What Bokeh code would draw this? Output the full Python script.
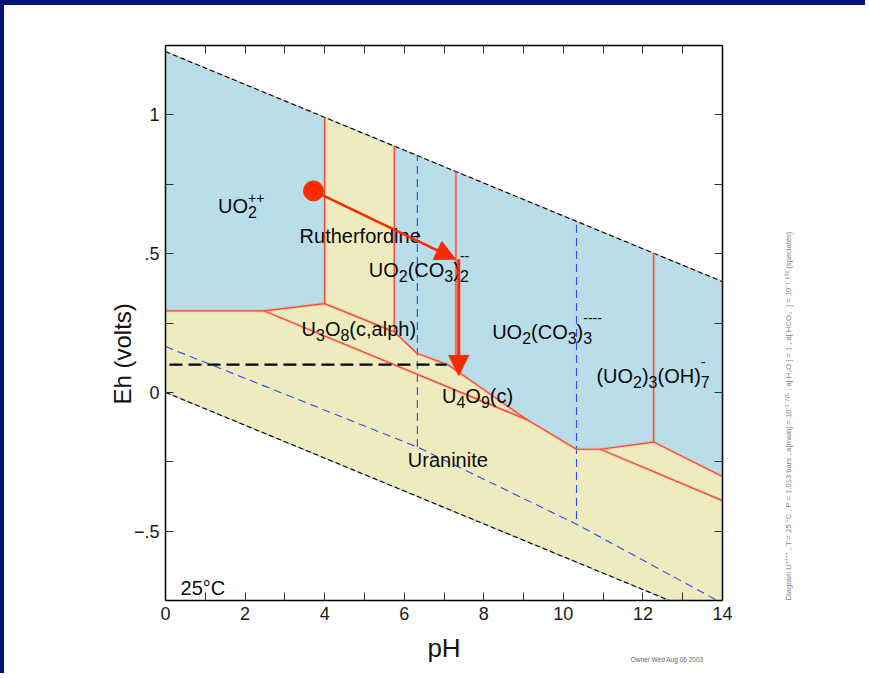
import math
from bokeh.plotting import figure
from bokeh.models import (Range1d, FixedTicker, LinearAxis, Arrow, Title,
                          NormalHead, ColumnDataSource)
from bokeh.core.properties import value
from bokeh.embed import file_html
from bokeh.resources import INLINE

# ---------------------------------------------------------------- data
# water stability limits (O2/H2O above, H2O/H2 below)
water_ph = [0, 14]
water_o2_eh = [1.228, 0.399]
water_h2_eh = [0.0, -0.829]

# upper edge of the solid fields, left to right
solid_top_ph = [0, 2.47, 4.0, 5.75, 6.32, 7.12, 9.09, 10.33, 10.93, 12.27, 14.0]
solid_top_eh = [0.294, 0.294, 0.32, 0.218, 0.141, 0.098, -0.099, -0.205, -0.205, -0.179, -0.303]

# U3O8 / U4O9 lower boundary against uraninite
u3o8_low_ph = [2.47, 9.09]
u3o8_low_eh = [0.294, -0.099]

# lower boundary of the high-pH solid band
band_low_ph = [10.93, 14.0]
band_low_eh = [-0.205, -0.39]

# vertical field boundaries (pH, Eh bottom, Eh top at the water limit)
vert_ph = [4.0, 5.75, 7.30, 12.27]
vert_eh_low = [0.32, 0.218, 0.078, -0.179]
vert_eh_top = [0.991, 0.888, 0.796, 0.502]

# aqueous U(IV)/U(VI) predominance lines
aq_diag_ph = [0, 6.33, 10.33, 14.0]
aq_diag_eh = [0.165, -0.197, -0.475, -0.76]
aq_vert_ph = [6.33, 10.33]
aq_vert_eh_low = [-0.197, -0.456]
aq_vert_eh_top = [0.853, 0.617]

# reaction path
start_ph, start_eh = 3.72, 0.726
path_ph = [3.72, 7.29]
path_eh = [0.726, 0.48]
drop_ph = [7.37, 7.37]
drop_eh = [0.48, 0.061]

# reference Eh level
ref_ph = [0.1, 7.07]
ref_eh = [0.1, 0.1]

# axes
x_ticks = [0, 2, 4, 6, 8, 10, 12, 14]
x_tick_labels = ["0", "2", "4", "6", "8", "10", "12", "14"]
x_minor = [1, 3, 5, 7, 9, 11, 13]
y_ticks = [-0.5, 0, 0.5, 1]
y_tick_labels = ["\u2212.5", "0", ".5", "1"]
y_minor = [-0.25, 0.25, 0.75]

run_note = ("Diagram U\u207a\u207a\u207a\u207a ,  T = 25 \u00b0C ,  P = 1.013 bars ,  "
            "a[main] = 10\u207b\u00b9\u02d9\u2077\u2077\u2075 ,  a[ H\u2082O ] = 1 ,  "
            "a[ HCO\u2083\u207b ] = 10\u207b\u00b9\u02d9\u2076\u2070\u00b2      (speciates)")
run_note_eh = -0.7499          # the note starts at the foot of the frame
owner_note = "Owner Wed Aug 06 2003"

# ---------------------------------------------------------------- style
BLUE = "#BADEE9"
YELLOW = "#EEECBE"
RED_LINE = "#F4452F"
RED = "#FF2A00"
DASH_BLUE = "#2B48FF"
NAVY = "#001478"
FONT = "Liberation Sans"

p = figure(width=865, height=673,
           x_range=Range1d(0, 14), y_range=Range1d(-0.75, 1.25),
           output_backend="svg", toolbar_location=None,
           x_axis_location=None, y_axis_location=None,
           min_border_left=161, min_border_right=147,
           min_border_top=40, min_border_bottom=78,
           background_fill_color="white", border_fill_color="white",
           outline_line_color=None)
p.styles = {"border-top": f"5px solid {NAVY}", "border-left": f"4px solid {NAVY}"}
for g in p.grid:
    g.visible = False

# ---------------------------------------------------------------- fields
i4 = solid_top_ph.index(vert_ph[0])
i5 = solid_top_ph.index(vert_ph[1])

uo2_x = [water_ph[0], vert_ph[0]] + solid_top_ph[:i4 + 1][::-1]
uo2_y = [water_o2_eh[0], vert_eh_top[0]] + solid_top_eh[:i4 + 1][::-1]

ruth_x = [vert_ph[0], vert_ph[1], vert_ph[1], vert_ph[0]]
ruth_y = [vert_eh_top[0], vert_eh_top[1], solid_top_eh[i5], solid_top_eh[i4]]

carb_x = [vert_ph[1], water_ph[1]] + solid_top_ph[i5:][::-1]
carb_y = [vert_eh_top[1], water_o2_eh[1]] + solid_top_eh[i5:][::-1]

solid_x = solid_top_ph + [water_ph[1], water_ph[0]]
solid_y = solid_top_eh + [water_h2_eh[1], water_h2_eh[0]]

p.patches(xs=[uo2_x, carb_x], ys=[uo2_y, carb_y], fill_color=BLUE, line_color=None)
p.patches(xs=[ruth_x, solid_x], ys=[ruth_y, solid_y], fill_color=YELLOW, line_color=None)

# water limits
for eh in (water_o2_eh, water_h2_eh):
    p.line(water_ph, eh, line_color="#c8c8c8", line_width=1.4)
    p.line(water_ph, eh, line_color="black", line_width=1.1, line_dash="5 3")

# aqueous predominance (dashed blue)
p.line(aq_diag_ph, aq_diag_eh, line_color=DASH_BLUE, line_width=1.1, line_dash="8 5")
p.multi_line(xs=[[x, x] for x in aq_vert_ph],
             ys=[[lo, hi] for lo, hi in zip(aq_vert_eh_low, aq_vert_eh_top)],
             line_color=DASH_BLUE, line_width=1.1, line_dash="8 5")

# field boundaries (red, with a soft halo)
red_xs = [solid_top_ph, u3o8_low_ph, band_low_ph] + [[x, x] for x in vert_ph]
red_ys = [solid_top_eh, u3o8_low_eh, band_low_eh] + \
         [[lo, hi] for lo, hi in zip(vert_eh_low, vert_eh_top)]
p.multi_line(xs=red_xs, ys=red_ys, line_color="#F59A90", line_width=3, line_alpha=0.45)
p.multi_line(xs=red_xs, ys=red_ys, line_color=RED_LINE, line_width=1.2)

# reference Eh level
p.line(ref_ph, ref_eh, line_color="black", line_width=2.2, line_dash="13 6")

# reaction path
p.add_layout(Arrow(end=NormalHead(size=20, fill_color=RED, line_color=RED),
                   x_start=path_ph[0], y_start=path_eh[0],
                   x_end=path_ph[1], y_end=path_eh[1],
                   line_color=RED, line_width=2.5))
p.add_layout(Arrow(end=NormalHead(size=20, fill_color=RED, line_color=RED),
                   x_start=drop_ph[0], y_start=drop_eh[0],
                   x_end=drop_ph[1], y_end=drop_eh[1],
                   line_color=RED, line_width=3))
p.scatter([start_ph], [start_eh], size=20, fill_color=RED, line_color=RED)

# ---------------------------------------------------------------- labels
ADV = {"U": 722, "O": 778, "C": 722, "H": 722, "R": 722, "(": 333, ")": 333,
       ",": 278, "+": 584, "-": 333, "a": 556, "c": 500, "e": 556, "h": 556,
       "i": 222, "l": 222, "n": 556, "o": 556, "p": 556, "r": 333, "t": 278,
       "u": 556, "d": 556, "f": 278, "s": 500, "\u00b0": 400, " ": 278}
MAIN, SUB, SUP = 20, 16, 14
SUB_DROP = 6
PLUS_RISE, MINUS_RISE = 8, 14


def text_width(s, size):
    return sum(ADV.get(ch, 556) for ch in s) * size / 1000.0


def compose(segs, x, y, rows):
    cur = 0.0
    sub_start = None
    for txt, kind in segs:
        if kind == "n":
            rows.append((x, y, txt, cur, 0, f"{MAIN}px"))
            cur += text_width(txt, MAIN)
            sub_start = None
        elif kind == "b":
            rows.append((x, y, txt, cur, SUB_DROP, f"{SUB}px"))
            sub_start = cur
            cur += text_width(txt, SUB)
        else:
            start = sub_start if sub_start is not None else cur
            rise = PLUS_RISE if "+" in txt else MINUS_RISE
            rows.append((x, y, txt, start, -rise, f"{SUP}px"))
            cur = max(cur, start + text_width(txt, SUP))


field_labels = [
    ([("UO", "n"), ("2", "b"), ("++", "p")], 1.32, 0.670),
    ([("Rutherfordine", "n")], 3.37, 0.563),
    ([("UO", "n"), ("2", "b"), ("(CO", "n"), ("3", "b"), (")", "n"),
      ("2", "b"), ("--", "p")], 5.11, 0.440),
    ([("U", "n"), ("3", "b"), ("O", "n"), ("8", "b"), ("(c,alph)", "n")], 3.42, 0.227),
    ([("UO", "n"), ("2", "b"), ("(CO", "n"), ("3", "b"), (")", "n"),
      ("3", "b"), ("----", "p")], 8.21, 0.218),
    ([("(UO", "n"), ("2", "b"), (")", "n"), ("3", "b"), ("(OH)", "n"),
      ("7", "b"), ("-", "p")], 10.83, 0.058),
    ([("U", "n"), ("4", "b"), ("O", "n"), ("9", "b"), ("(c)", "n")], 6.95, -0.014),
    ([("Uraninite", "n")], 6.09, -0.245),
    ([("25\u00b0C", "n")], 0.38, -0.704),
]
rows = []
for segs, lx, ly in field_labels:
    compose(segs, lx, ly, rows)
src = ColumnDataSource(dict(
    x=[r[0] for r in rows], y=[r[1] for r in rows], text=[r[2] for r in rows],
    xo=[r[3] for r in rows], yo=[r[4] for r in rows], fs=[r[5] for r in rows]))
p.text(x="x", y="y", text="text", x_offset="xo", y_offset="yo",
       text_font_size="fs", text_font=value(FONT), text_color="#0a0a0a",
       text_align="left", text_baseline="alphabetic", source=src)

# ---------------------------------------------------------------- axes
x_ticker = FixedTicker(ticks=x_ticks, minor_ticks=x_minor)
y_ticker = FixedTicker(ticks=y_ticks, minor_ticks=y_minor)


def style_axis(ax):
    ax.axis_line_color = "black"
    ax.axis_line_width = 1.5
    ax.major_tick_in = 8
    ax.major_tick_out = 0
    ax.minor_tick_in = 8
    ax.minor_tick_out = 0
    ax.major_tick_line_color = "#333333"
    ax.minor_tick_line_color = "#333333"
    ax.major_label_text_font = FONT
    ax.major_label_text_color = "#1a1a1a"
    ax.major_label_standoff = 6
    ax.major_label_text_font_size = "18px"


bottom = LinearAxis(ticker=x_ticker,
                    major_label_overrides=dict(zip(x_ticks, x_tick_labels)),
                    axis_label="pH", axis_label_text_font=FONT,
                    axis_label_text_font_size="26px",
                    axis_label_text_font_style="normal",
                    axis_label_text_color="#111111", axis_label_standoff=10)
top = LinearAxis(ticker=x_ticker, major_label_overrides={t: "" for t in x_ticks})
left = LinearAxis(ticker=y_ticker,
                  major_label_overrides=dict(zip(y_ticks, y_tick_labels)))
right = LinearAxis(ticker=y_ticker, major_label_overrides={t: "" for t in y_ticks})
for ax, loc in ((bottom, "below"), (top, "above"), (left, "left"), (right, "right")):
    style_axis(ax)
    p.add_layout(ax, loc)

# run conditions, written upward beside the frame
note_axis = LinearAxis(ticker=FixedTicker(ticks=[run_note_eh], minor_ticks=[]),
                       major_label_overrides={run_note_eh: run_note},
                       major_label_orientation=math.pi / 2,
                       major_label_text_font=FONT, major_label_text_font_size="7.6px",
                       major_label_text_color="#808080", major_label_standoff=60,
                       axis_line_color=None, major_tick_line_color=None,
                       minor_tick_line_color=None)
p.add_layout(note_axis, "right")

# axis title for Eh, set low along the left side
p.add_layout(Title(text="Eh (volts)", align="left", offset=196,
                   text_font=FONT, text_font_size="24px", text_font_style="normal",
                   text_color="#111111", standoff=-10), "left")

# owner / date stamp under the frame, right side
p.add_layout(Title(text=owner_note, align="right", offset=19,
                   text_font=FONT, text_font_size="6.5px", text_font_style="normal",
                   text_color="#666666", vertical_align="top", standoff=-20), "below")

open("out.html", "w").write(file_html(p, INLINE))
